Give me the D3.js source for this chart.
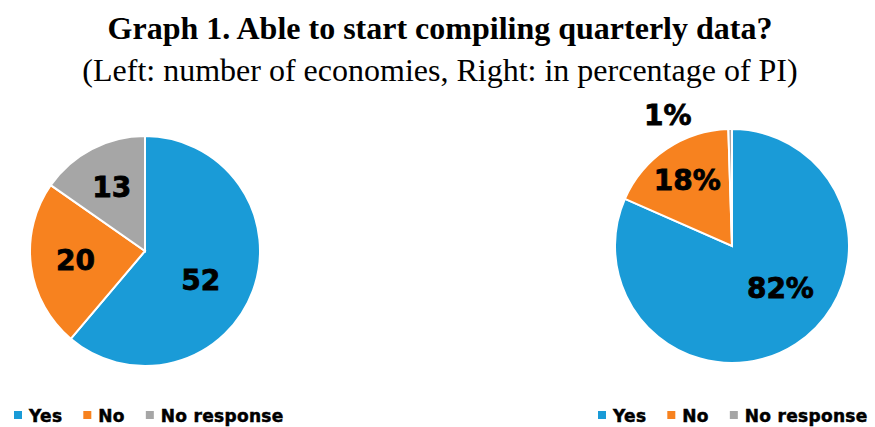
<!DOCTYPE html>
<html lang="en">
<head>
<meta charset="utf-8">
<title>Graph 1</title>
<script src="https://d3js.org/d3.v7.min.js"></script>
<style>
  body { margin: 0; background: #fff; }
  .title { font-family: "Liberation Serif", serif; font-weight: bold; font-size: 32px; }
  .subtitle { font-family: "Liberation Serif", serif; font-size: 32px; }
  .label { font-family: "DejaVu Sans", sans-serif; font-weight: bold; font-size: 28px; fill: #000; stroke: #000; stroke-width: 0.8px; }
  .legend text { font-family: "DejaVu Sans", sans-serif; font-weight: bold; font-size: 17px; fill: #000; stroke: #000; stroke-width: 0.5px; letter-spacing: 0.3px; }
</style>
</head>
<body>
<script>
// data
var categories = ["Yes", "No", "No response"];
var economies = [52, 20, 13];          // left pie: number of economies
var percentPI = [81.6, 17.9, 0.5];     // right pie: share of PI (%)
var colors = ["#1a9bd7", "#f7821f", "#a6a6a6"];

var width = 875, height = 427;
var svg = d3.select("body").append("svg")
    .attr("width", width)
    .attr("height", height);

svg.append("text").attr("class", "title")
    .attr("x", 440).attr("y", 39)
    .attr("text-anchor", "middle")
    .text("Graph 1. Able to start compiling quarterly data?");
svg.append("text").attr("class", "subtitle")
    .attr("x", 440).attr("y", 81)
    .attr("text-anchor", "middle")
    .text("(Left: number of economies, Right: in percentage of PI)");

var color = d3.scaleOrdinal().domain(categories).range(colors);
var pie = d3.pie().sort(null).value(function(d) { return d.v; });

// labels: radius and angle nudge (radians) per slice
function drawPie(values, cx, cy, r, fmt, labelR, nudge) {
    var data = categories.map(function(c, i) { return { c: c, v: values[i] }; });
    var arcs = pie(data);
    var arc = d3.arc().innerRadius(0).outerRadius(r);
    var g = svg.append("g").attr("transform", "translate(" + cx + "," + cy + ")");
    g.selectAll("path")
        .data(arcs)
      .enter().append("path")
        .attr("d", arc)
        .attr("fill", function(d) { return color(d.data.c); })
        .attr("stroke", "#fff")
        .attr("stroke-width", 2);
    g.selectAll("text")
        .data(arcs)
      .enter().append("text")
        .attr("class", "label")
        .attr("text-anchor", "middle")
        .attr("dy", "0.36em")
        .attr("transform", function(d, i) {
            var a = (d.startAngle + d.endAngle) / 2 + nudge[i];
            return "translate(" + [labelR[i] * Math.sin(a), -labelR[i] * Math.cos(a)] + ")";
        })
        .text(function(d) { return fmt(d.data.v); });
}

drawPie(economies, 145, 251, 115, function(v) { return v; }, [63, 70, 72], [0.13, 0, 0]);
drawPie(percentPI, 732, 246, 117, function(v) { return Math.round(v) + "%"; }, [64, 80, 146], [-0.28, 0, -0.44]);

function legend(x, y) {
    var g = svg.append("g").attr("class", "legend").attr("transform", "translate(" + x + "," + y + ")");
    var pos = 0;
    categories.forEach(function(c) {
        g.append("rect")
            .attr("x", pos).attr("y", -11)
            .attr("width", 8).attr("height", 8)
            .attr("fill", color(c));
        var t = g.append("text")
            .attr("x", pos + 15).attr("y", 0)
            .text(c);
        pos += 15 + t.node().getComputedTextLength() + 21;
    });
}
legend(14, 422);
legend(598, 422);
</script>
</body>
</html>
